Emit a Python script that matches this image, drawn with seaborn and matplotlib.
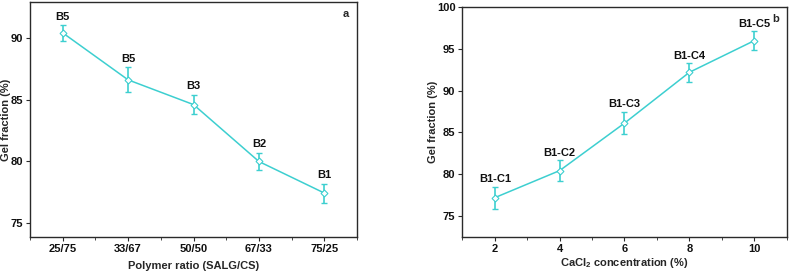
import numpy as np
import pandas as pd
import matplotlib
matplotlib.use("Agg")
import matplotlib.pyplot as plt
import seaborn as sns
from matplotlib.ticker import MultipleLocator, FixedLocator

# Panel a data
ratio_labels = ["25/75", "33/67", "50/50", "67/33", "75/25"]
gel_a = [90.4, 86.6, 84.6, 80.0, 77.45]
err_a = [0.63, 1.0, 0.8, 0.7, 0.77]
names_a = ["B5", "B5", "B3", "B2", "B1"]

# Panel b data
cacl2 = [2, 4, 6, 8, 10]
gel_b = [77.15, 80.4, 86.1, 92.2, 96.0]
err_b = [1.34, 1.26, 1.34, 1.12, 1.14]
names_b = ["B1-C1", "B1-C2", "B1-C3", "B1-C4", "B1-C5"]

sns.set_style("ticks")
plt.rcParams["font.family"] = ["Liberation Sans", "DejaVu Sans"]
plt.rcParams["font.weight"] = "bold"
plt.rcParams["mathtext.fontset"] = "custom"
plt.rcParams["mathtext.rm"] = "Liberation Sans:bold"
plt.rcParams["mathtext.it"] = "Liberation Sans:bold"
plt.rcParams["mathtext.bf"] = "Liberation Sans:bold"
plt.rcParams["mathtext.default"] = "rm"

color = "#3dcfd0"
fs = 8

fig = plt.figure(figsize=(7.89, 2.73), dpi=100)
ax1 = fig.add_axes([0.038, 0.132, 0.4145, 0.861])
ax2 = fig.add_axes([0.586, 0.131, 0.411, 0.842])

df_a = pd.DataFrame({"x": np.arange(len(ratio_labels)), "y": gel_a})
df_b = pd.DataFrame({"x": cacl2, "y": gel_b})

for ax, df, err, names, dy in [(ax1, df_a, err_a, names_a, 0.28), (ax2, df_b, err_b, names_b, 0.3)]:
    sns.lineplot(data=df, x="x", y="y", ax=ax, color=color, lw=1.1,
                 marker="D", markersize=3.5, markerfacecolor="white",
                 markeredgecolor=color, markeredgewidth=0.8, zorder=3)
    ax.errorbar(df["x"], df["y"], yerr=err, fmt="none", ecolor=color,
                elinewidth=1.2, capsize=2.5, capthick=1.0, zorder=2)
    for xi, yi, ei, nm in zip(df["x"], df["y"], err, names):
        ax.text(xi, yi + ei + dy, nm, ha="center", va="bottom",
                fontsize=fs, fontweight="bold", color="#111111")
    for s in ax.spines.values():
        s.set_visible(True)
        s.set_linewidth(1.0)
        s.set_color("#2a2a2a")
    ax.tick_params(axis="both", which="major", direction="out", length=3,
                   width=0.8, labelsize=fs, pad=2, colors="#2a2a2a",
                   labelcolor="#111111")
    ax.tick_params(axis="both", which="minor", direction="out", length=2,
                   width=0.6, colors="#2a2a2a")

# Panel a formatting
ax1.set_xlim(-0.5, 4.5)
ax1.set_ylim(73.9, 92.9)
ax1.set_xticks(range(len(ratio_labels)))
ax1.set_xticklabels(ratio_labels, fontweight="bold", fontsize=fs)
ax1.xaxis.set_minor_locator(FixedLocator([-0.5, 0.5, 1.5, 2.5, 3.5, 4.5]))
ax1.set_yticks([75, 80, 85, 90])
ax1.set_yticklabels(["75", "80", "85", "90"], fontweight="bold", fontsize=fs)
ax1.set_xlabel("Polymer ratio (SALG/CS)", fontsize=fs, fontweight="bold", labelpad=5)
ax1.set_ylabel("Gel fraction (%)", fontsize=fs, fontweight="bold")
ax1.yaxis.set_label_coords(-0.058, 0.5)
ax1.text(0.965, 0.97, "a", transform=ax1.transAxes, ha="center", va="top",
         fontsize=fs, fontweight="bold")

# Panel b formatting
ax2.set_xlim(1, 11)
ax2.set_ylim(72.4, 100)
ax2.set_xticks(cacl2)
ax2.set_xticklabels([str(v) for v in cacl2], fontweight="bold", fontsize=fs)
ax2.xaxis.set_minor_locator(MultipleLocator(1))
ax2.set_yticks([75, 80, 85, 90, 95, 100])
ax2.set_yticklabels(["75", "80", "85", "90", "95", "100"], fontweight="bold", fontsize=fs)
ax2.set_xlabel("CaCl$_2$ concentration (%)", fontsize=fs, fontweight="bold", labelpad=1)
ax2.set_ylabel("Gel fraction (%)", fontsize=fs, fontweight="bold")
ax2.yaxis.set_label_coords(-0.075, 0.5)
ax2.text(0.965, 0.97, "b", transform=ax2.transAxes, ha="center", va="top",
         fontsize=fs, fontweight="bold")

fig.savefig("out.png", dpi=100)
